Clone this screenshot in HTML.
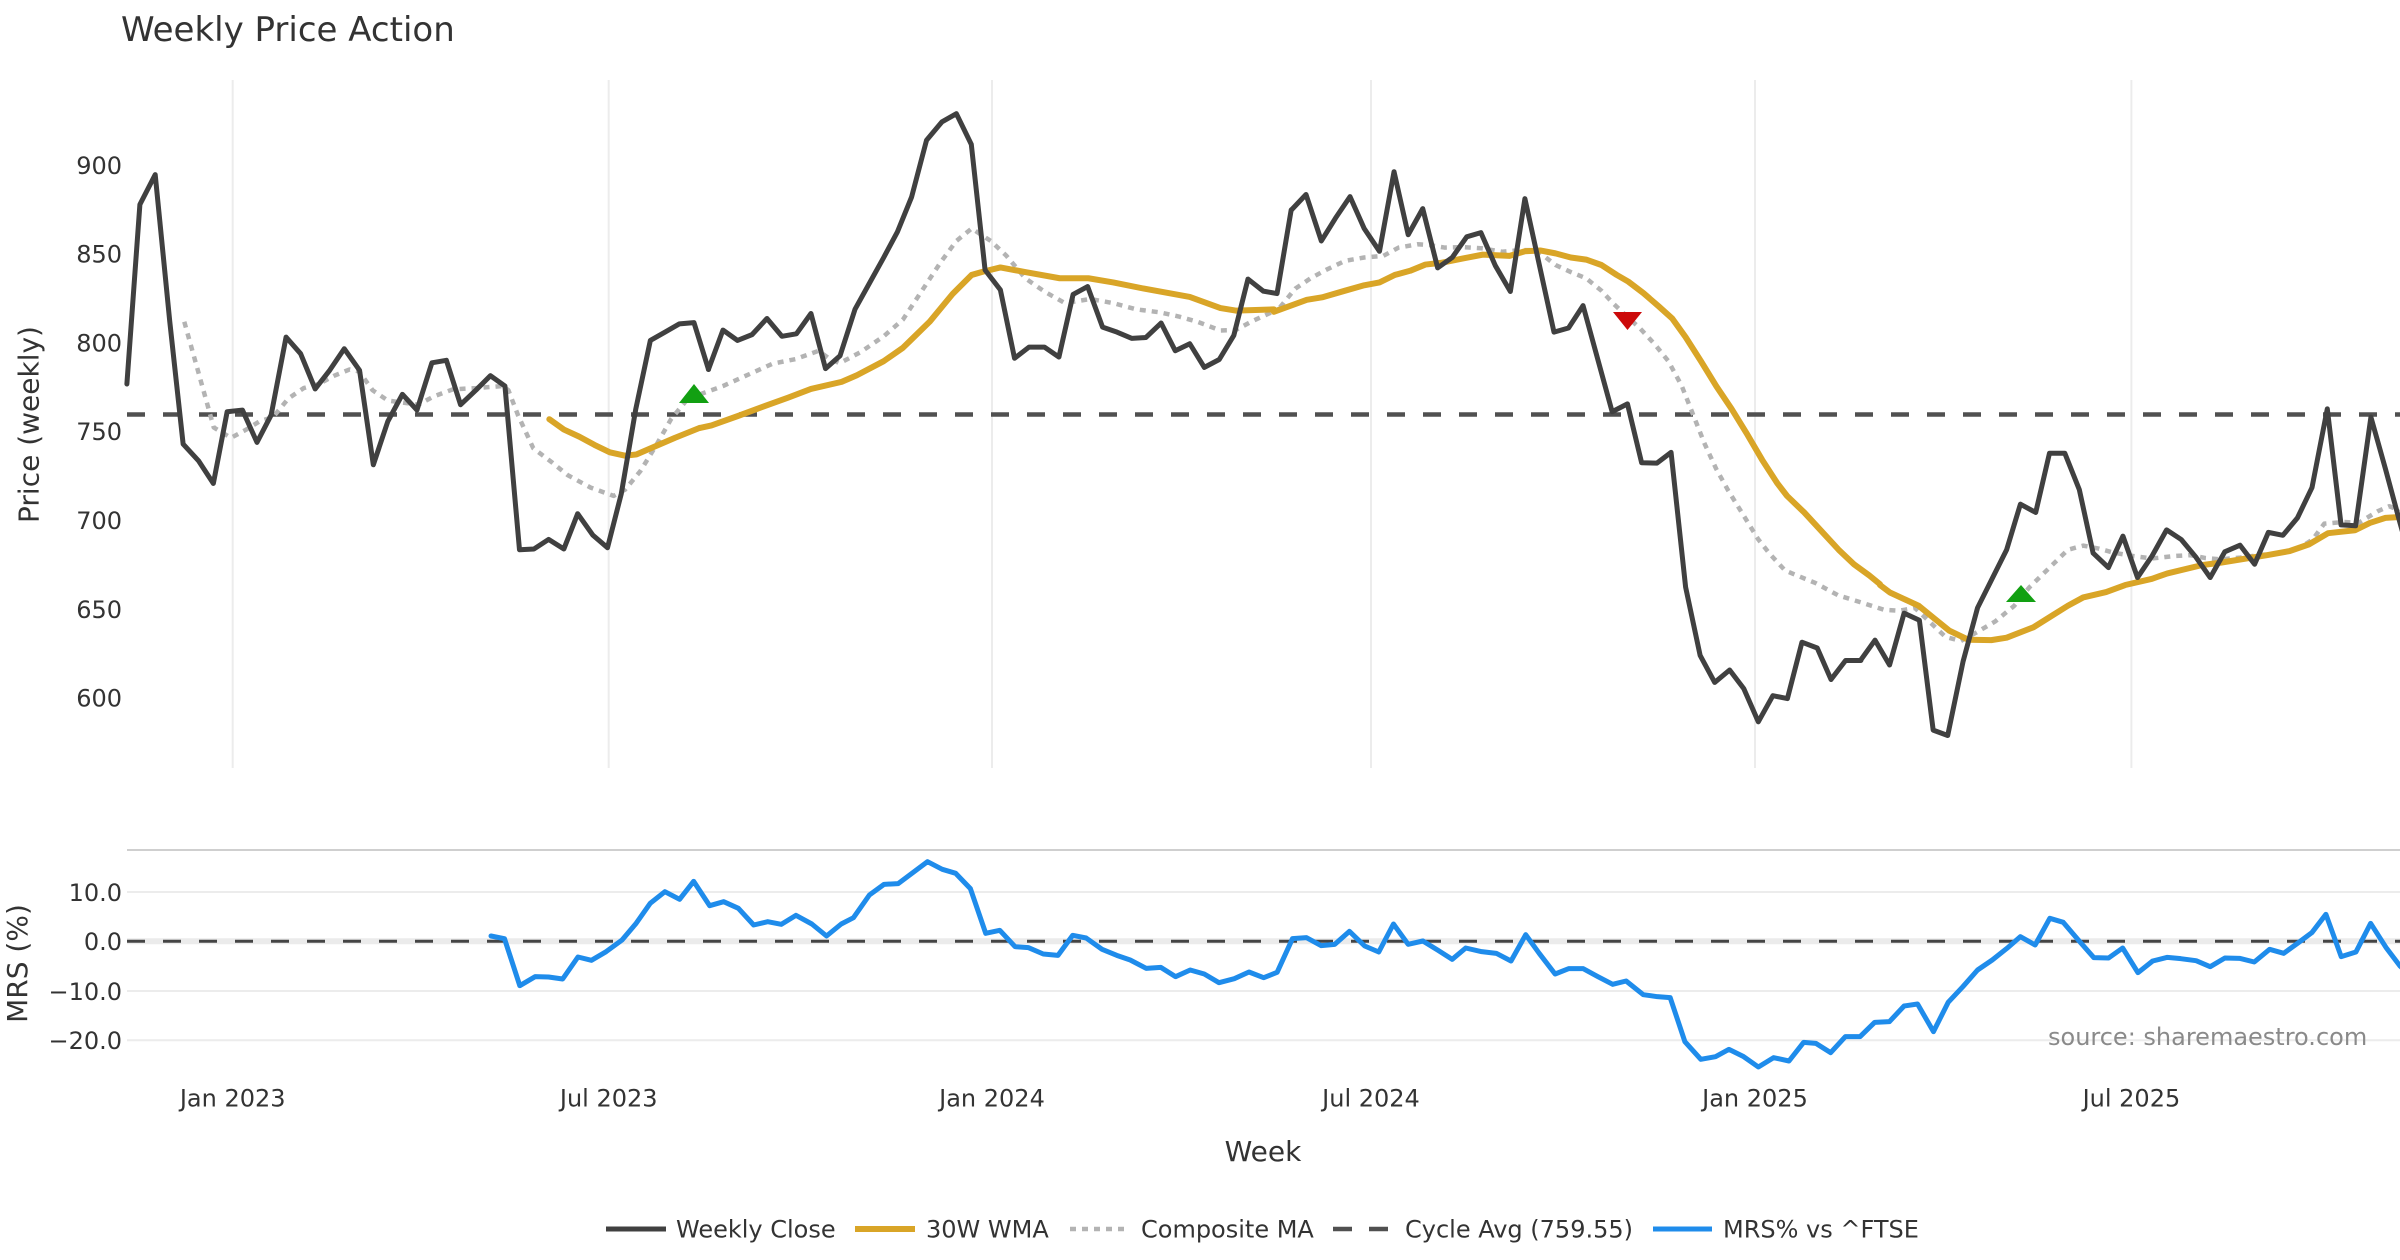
<!DOCTYPE html>
<html>
<head>
<meta charset="utf-8">
<style>
  html, body { margin:0; padding:0; background:#ffffff; }
  svg { display:block; }
  text { font-family: "DejaVu Sans", "Liberation Sans", sans-serif; }
</style>
</head>
<body>
<svg width="2400" height="1260" viewBox="0 0 2400 1260" xmlns="http://www.w3.org/2000/svg">
  <rect x="0" y="0" width="2400" height="1260" fill="#ffffff"/>

  <!-- Title -->
  <text x="121" y="41" font-size="34" fill="#333333">Weekly Price Action</text>

  <!-- Top panel vertical gridlines -->
  <g stroke="#ececec" stroke-width="2">
    <line x1="232.7" y1="80" x2="232.7" y2="768"/>
    <line x1="608.7" y1="80" x2="608.7" y2="768"/>
    <line x1="992" y1="80" x2="992" y2="768"/>
    <line x1="1371" y1="80" x2="1371" y2="768"/>
    <line x1="1755" y1="80" x2="1755" y2="768"/>
    <line x1="2131.4" y1="80" x2="2131.4" y2="768"/>
  </g>

  <!-- Price tick labels -->
  <g font-size="24" fill="#333333" text-anchor="end">
    <text x="122" y="173.8">900</text>
    <text x="122" y="262.6">850</text>
    <text x="122" y="351.4">800</text>
    <text x="122" y="440.2">750</text>
    <text x="122" y="529">700</text>
    <text x="122" y="617.8">650</text>
    <text x="122" y="706.6">600</text>
  </g>

  <!-- Y axis title (price) -->
  <text transform="translate(38.5,424.5) rotate(-90)" font-size="28" fill="#333333" text-anchor="middle">Price (weekly)</text>

  <!-- Cycle avg dashed -->
  <line x1="127" y1="414.5" x2="2400" y2="414.5" stroke="#505050" stroke-width="4.5" stroke-dasharray="18 18"/>

  <!-- Composite MA (dotted) -->
  <g fill="none" stroke="#b3b3b3" stroke-width="4.5" stroke-dasharray="6 6" stroke-linejoin="round">
    <g transform="translate(120,100) scale(0.382653,0.414541)">
      <polyline vector-effect="non-scaling-stroke" points="168,535 230,740 245,790 290,815 330,795 365,775 400,765 440,720 480,695 520,685 560,665 600,650 625,655 660,700 700,725 780,735 820,715 870,698 930,695 1000,690 1015,700 1040,760 1080,840 1130,875 1170,905 1230,935 1290,955 1320,940 1360,895 1400,835 1440,770 1480,725 1515,710"/>
    </g>
    <g transform="translate(700,100) scale(0.382653,0.414541)">
      <polyline vector-effect="non-scaling-stroke" points="0,710 60,690 120,665 190,636 250,625 310,605 335,622 365,635 420,608 480,570 530,530 580,460 630,390 670,340 710,310 760,340 800,375 850,430 900,462 950,488 980,486 1020,480 1080,490 1140,505 1200,512 1250,522 1300,535 1360,556 1400,555 1440,535 1515,503"/>
    </g>
    <g transform="translate(1280,100) scale(0.382653,0.414541)">
      <polyline vector-effect="non-scaling-stroke" points="0,500 40,455 80,430 120,410 170,388 220,380 270,376 310,356 360,348 390,350 430,356 480,355 530,358 580,366 630,362 670,362 720,398 760,415 800,430 840,460 870,490 910,525 940,550 980,590 1015,630 1050,690 1080,760 1110,830 1140,890 1170,940 1210,1000 1250,1060 1280,1095 1320,1135 1359,1150"/>
    </g>
    <g transform="translate(1800,100) scale(0.382653,0.414541)">
      <polyline vector-effect="non-scaling-stroke" points="0,1150 40,1165 100,1195 160,1212 220,1230 260,1232 300,1225 340,1260 380,1295 420,1305 460,1285 510,1258 560,1220 600,1175 650,1130 700,1085 740,1075 780,1082 820,1092 870,1100 920,1106 980,1100 1020,1098 1060,1105 1100,1108 1150,1104 1200,1098 1260,1092 1310,1078 1340,1060 1370,1022 1420,1018 1460,1020 1510,992 1540,980 1568,990"/>
    </g>
  </g>

  <!-- 30W WMA (gold) -->
  <g fill="none" stroke="#d9a527" stroke-width="6" stroke-linejoin="round" stroke-linecap="round">
    <g transform="translate(120,100) scale(0.382653,0.414541)">
      <polyline vector-effect="non-scaling-stroke" points="1122,770 1160,795 1200,812 1240,832 1280,850 1320,858 1350,855 1400,835 1450,815 1515,791"/>
    </g>
    <g transform="translate(700,100) scale(0.382653,0.414541)">
      <polyline vector-effect="non-scaling-stroke" points="0,791 30,785 100,762 170,738 230,718 290,697 370,680 410,664 480,630 530,598 550,580 600,535 660,468 710,422 740,414 785,404 850,415 940,430 1015,430 1080,440 1160,455 1280,475 1360,502 1400,508 1500,505"/>
    </g>
    <g transform="translate(1280,100) scale(0.382653,0.414541)">
      <polyline vector-effect="non-scaling-stroke" points="-16,511 70,482 110,476 170,460 220,447 260,440 300,422 340,412 380,397 420,393 480,382 530,373 600,376 640,365 680,363 720,370 760,380 800,385 840,398 880,422 910,438 950,466 990,498 1025,527 1060,572 1100,630 1140,690 1180,745 1220,805 1260,868 1300,925 1325,955 1370,995 1420,1045 1460,1085 1500,1120 1540,1147 1568,1168"/>
    </g>
    <g transform="translate(1800,100) scale(0.382653,0.414541)">
      <polyline vector-effect="non-scaling-stroke" points="209,1170 235,1188 310,1220 350,1250 390,1280 440,1302 500,1303 540,1297 610,1272 660,1243 700,1220 740,1200 800,1187 850,1170 920,1155 960,1142 1050,1122 1100,1116 1160,1107 1220,1098 1280,1088 1330,1072 1380,1045 1450,1038 1490,1020 1530,1008 1600,1004"/>
    </g>
  </g>

  <!-- Weekly Close -->
  <g fill="none" stroke="#404040" stroke-width="5" stroke-linejoin="round" stroke-linecap="round">
    <g transform="translate(120,100) scale(0.382653,0.414541)">
      <polyline vector-effect="non-scaling-stroke" points="18,685 52,252 92,180 130,534 165,830 205,870 244,925 280,752 320,748 358,826 395,760 434,572 472,612 510,697 548,652 586,600 626,652 662,880 700,775 738,710 776,748 815,634 853,628 890,735 930,700 968,665 1006,690 1044,1085 1082,1083 1120,1060 1160,1083 1196,998 1236,1050 1274,1080 1310,950 1348,745 1386,580 1424,560 1462,540 1500,537 1538,650"/>
    </g>
    <g transform="translate(700,100) scale(0.382653,0.414541)">
      <polyline vector-effect="non-scaling-stroke" points="22,650 60,555 98,580 136,566 175,527 214,570 252,564 290,515 328,648 366,617 405,505 444,440 480,380 516,318 553,234 592,97 632,53 670,33 709,107 745,410 785,458 822,623 860,596 900,596 938,620 975,469 1013,450 1052,548 1090,560 1128,575 1165,573 1205,538 1242,605 1280,588 1318,645 1357,626 1395,568 1432,432 1472,461 1508,467 1545,265"/>
    </g>
    <g transform="translate(1280,100) scale(0.382653,0.414541)">
      <polyline vector-effect="non-scaling-stroke" points="30,265 68,228 108,340 145,285 183,233 220,310 260,365 298,173 335,325 373,262 412,405 450,380 488,330 525,320 563,400 602,462 640,238 716,560 754,550 792,496 868,752 908,733 945,875 985,876 1022,850 1060,1175 1098,1340 1136,1405 1175,1375 1212,1420 1250,1500 1288,1437 1326,1444 1364,1308 1404,1322 1440,1398 1478,1352 1518,1352"/>
    </g>
    <g transform="translate(1800,100) scale(0.382653,0.414541)">
      <polyline vector-effect="non-scaling-stroke" points="158,1352 196,1303 234,1363 272,1238 312,1255 348,1520 386,1533 426,1355 464,1225 502,1155 540,1085 576,975 616,995 652,852 692,852 730,940 766,1093 806,1128 844,1052 882,1152 920,1100 958,1037 996,1060 1034,1102 1072,1152 1110,1090 1150,1074 1188,1120 1224,1043 1262,1050 1300,1008 1338,935 1378,745 1414,1025 1452,1027 1492,765 1530,890 1568,1020 1600,1125"/>
    </g>
  </g>

  <!-- Signal markers -->
  <polygon points="694,384 709,403 679,403" fill="#12a012"/>
  <polygon points="1613,312 1642,312 1627.5,330" fill="#cc0a0a"/>
  <polygon points="2021,585 2036,602 2006,602" fill="#12a012"/>

  <!-- Separator line -->
  <line x1="127" y1="850" x2="2400" y2="850" stroke="#cfcfcf" stroke-width="2"/>

  <!-- MRS gridlines -->
  <g stroke="#ececec" stroke-width="2">
    <line x1="127" y1="892" x2="2400" y2="892"/>
    <line x1="127" y1="991" x2="2400" y2="991"/>
    <line x1="127" y1="1040.3" x2="2400" y2="1040.3"/>
  </g>
  <line x1="127" y1="941.3" x2="2400" y2="941.3" stroke="#ebebeb" stroke-width="6"/>
  <line x1="127" y1="941.3" x2="2400" y2="941.3" stroke="#444444" stroke-width="3" stroke-dasharray="18 18"/>

  <!-- MRS tick labels -->
  <g font-size="24" fill="#333333" text-anchor="end">
    <text x="122" y="900.8">10.0</text>
    <text x="122" y="950">0.0</text>
    <text x="122" y="999.8">−10.0</text>
    <text x="122" y="1049">−20.0</text>
  </g>
  <text transform="translate(27,963.5) rotate(-90)" font-size="28" fill="#333333" text-anchor="middle">MRS (%)</text>

  <!-- source text -->
  <text x="2048" y="1045" font-size="24" fill="#8a8a8a">source: sharemaestro.com</text>

  <!-- MRS line -->
  <g fill="none" stroke="#1f8ceb" stroke-width="5" stroke-linejoin="round" stroke-linecap="round">
    <g transform="translate(480,860) scale(0.612245,0.333333)">
      <polyline vector-effect="non-scaling-stroke" points="18,228 40,236 65,377 90,350 112,351 135,357 160,291 182,301 206,275 232,240 255,190 278,130 302,95 326,118 349,64 375,137 398,125 422,145 447,195 470,185 492,193 516,166 542,192 566,228 590,192 610,173 636,105 660,73 683,71 707,38 731,5 755,28 777,40 801,86 826,220 849,211 874,260 896,263 920,282 944,286 968,226 990,234 1016,268 1040,286 1062,300 1088,325 1112,322 1136,350 1160,330 1183,342 1207,368 1232,356 1256,336 1280,353 1302,337 1327,236 1350,233 1374,257 1396,253 1420,214 1445,258 1468,276 1492,192 1516,253 1540,243"/>
    </g>
    <g transform="translate(1440,860) scale(0.612245,0.333333)">
      <polyline vector-effect="non-scaling-stroke" points="-28,243 -4,270 20,298 42,264 68,275 92,280 116,303 140,224 162,280 188,342 210,326 234,326 258,350 282,373 304,363 332,404 355,410 376,413 400,545 426,598 450,590 472,568 496,590 520,621 545,593 570,603 594,547 614,550 638,578 662,530 686,530 710,487 734,485 758,438 780,432 806,515 830,427 854,380 878,330 902,300 926,265 948,230 972,255 996,175 1018,187 1044,243 1068,293 1092,294 1115,264 1140,338 1164,303 1188,292 1210,296 1235,302 1258,320 1282,294 1306,295 1330,306 1355,268 1378,280 1402,248 1424,218 1447,163 1472,290 1496,276 1520,190 1545,262 1568,318 1600,370"/>
    </g>
  </g>

  <!-- X tick labels -->
  <g font-size="24" fill="#333333" text-anchor="middle">
    <text x="232.7" y="1106.5">Jan 2023</text>
    <text x="608.7" y="1106.5">Jul 2023</text>
    <text x="992" y="1106.5">Jan 2024</text>
    <text x="1371" y="1106.5">Jul 2024</text>
    <text x="1755" y="1106.5">Jan 2025</text>
    <text x="2131.4" y="1106.5">Jul 2025</text>
  </g>
  <text x="1263" y="1161" font-size="28" fill="#333333" text-anchor="middle">Week</text>

  <!-- Legend -->
  <line x1="606" y1="1229" x2="666" y2="1229" stroke="#404040" stroke-width="5"/>
  <text x="676" y="1237.7" font-size="24" fill="#333333">Weekly Close</text>
  <line x1="855" y1="1229" x2="915" y2="1229" stroke="#d9a527" stroke-width="6"/>
  <text x="926" y="1237.7" font-size="24" fill="#333333">30W WMA</text>
  <line x1="1070" y1="1229" x2="1126" y2="1229" stroke="#b3b3b3" stroke-width="4.5" stroke-dasharray="6 6"/>
  <text x="1141" y="1237.7" font-size="24" fill="#333333">Composite MA</text>
  <line x1="1333" y1="1229" x2="1390" y2="1229" stroke="#505050" stroke-width="4.5" stroke-dasharray="19 17"/>
  <text x="1405" y="1237.7" font-size="24" fill="#333333">Cycle Avg (759.55)</text>
  <line x1="1653" y1="1229" x2="1712" y2="1229" stroke="#1f8ceb" stroke-width="5"/>
  <text x="1723" y="1237.7" font-size="24" fill="#333333">MRS% vs ^FTSE</text>
</svg>
</body>
</html>
